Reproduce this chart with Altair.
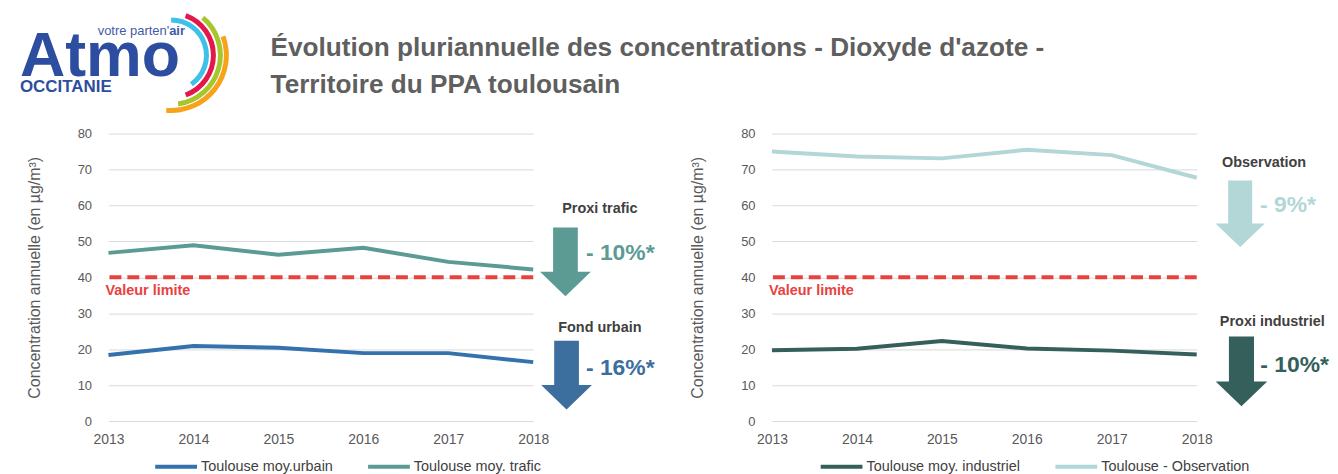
import altair as alt
import pandas as pd

# ---------------- data ----------------
years = [2013, 2014, 2015, 2016, 2017, 2018]
urbain = [18.4, 20.9, 20.4, 18.9, 18.9, 16.4]
trafic = [46.8, 48.9, 46.3, 48.2, 44.3, 42.2]
industriel = [19.7, 20.1, 22.3, 20.2, 19.6, 18.5]
observation = [75.0, 73.6, 73.1, 75.5, 74.0, 67.7]
limit_value = 40

left_series = ["Toulouse moy.urbain", "Toulouse moy. trafic"]
right_series = ["Toulouse moy. industriel", "Toulouse - Observation"]
y_ticks = [0, 10, 20, 30, 40, 50, 60, 70, 80]

title_line1 = "Évolution pluriannuelle des concentrations - Dioxyde d'azote  -"
title_line2 = "Territoire du PPA toulousain"
y_title = "Concentration annuelle (en µg/m³)"

# ---------------- styles ----------------
FONT = "Liberation Sans, Arial, sans-serif"
GRAY = "#595959"
DARK = "#404040"
RED = "#e8423f"
C_URB, C_TRA = "#3471ad", "#5b9b94"
C_IND, C_OBS = "#355f5b", "#b3d6d6"
A_URB = "#3c6e9e"
LOGO = "#2d4ea0"

W, H = 427, 289

# arrow shape (unit box -1..1)
ARROW = ("M-0.36,-1 L0.36,-1 L0.36,0.29 L0.74,0.29 L0,1 "
         "L-0.74,0.29 L-0.36,0.29 Z")

x_scale = alt.Scale(domain=[2013, 2018], nice=False, zero=False)
y_scale = alt.Scale(domain=[0, 80], nice=False)
x_axis = alt.Axis(values=years, format="d", title=None, grid=False,
                  domain=False, ticks=False, labelFont=FONT,
                  labelFontSize=14, labelColor=GRAY, labelPadding=12,
                  labelFlush=False)
y_axis = alt.Axis(values=y_ticks, tickCount=9, title=y_title, grid=True,
                  gridColor="#d9d9d9", gridWidth=1, domain=False,
                  ticks=False, labelFont=FONT, labelFontSize=13,
                  labelColor=GRAY, labelPadding=17, labelOverlap=False,
                  titleFont=FONT, titleFontSize=16,
                  titleFontWeight="normal", titleColor=GRAY,
                  titlePadding=35)


def one():
    return pd.DataFrame({"t": [""]})


def txt(s, x, y, size, color, weight="bold", align="center",
        baseline="middle"):
    return alt.Chart(pd.DataFrame({"t": [s]})).mark_text(
        font=FONT, fontSize=size, fontWeight=weight, color=color,
        align=align, baseline=baseline
    ).encode(x=alt.value(x), y=alt.value(y), text="t:N")


def arrow(x, y, h, color):
    return alt.Chart(one()).mark_point(
        shape=ARROW, filled=True, size=h * h, opacity=1, strokeWidth=0,
        fill=color
    ).encode(x=alt.value(x), y=alt.value(y))


def arc(x, y, r, t1, t2, color):
    return alt.Chart(one()).mark_arc(
        theta=t1, theta2=t2, radius=r, radius2=r - 5, color=color
    ).encode(x=alt.value(x), y=alt.value(y))


def panel(names, vals_a, vals_b, colors, legend_x):
    df = pd.DataFrame({
        "year": years * 2,
        "value": vals_a + vals_b,
        "series": [names[0]] * len(years) + [names[1]] * len(years),
    })
    lines = alt.Chart(df).mark_line(strokeWidth=4).encode(
        x=alt.X("year:Q", scale=x_scale, axis=x_axis),
        y=alt.Y("value:Q", scale=y_scale, axis=y_axis),
        color=alt.Color("series:N",
                        scale=alt.Scale(domain=names, range=colors),
                        legend=alt.Legend(title=None, orient="none",
                                          legendX=legend_x, legendY=312,
                                          direction="horizontal",
                                          symbolType="stroke", symbolSize=1764,
                                          symbolStrokeWidth=4,
                                          labelFont=FONT, labelFontSize=14.5,
                                          labelColor=DARK, columnPadding=27,
                                          labelOffset=2, padding=0)),
    )
    rule = alt.Chart(one()).mark_rule(
        color=RED, strokeWidth=4, strokeDash=[12, 6]
    ).encode(y=alt.YDatum(limit_value, axis=y_axis, scale=y_scale))
    vl = alt.Chart(one()).mark_text(
        text="Valeur limite", font=FONT, fontSize=14.5, fontWeight="bold",
        color=RED, align="left", baseline="middle", dx=-3, dy=14
    ).encode(x=alt.XDatum(2013, axis=x_axis, scale=x_scale),
             y=alt.YDatum(limit_value, axis=y_axis, scale=y_scale))
    return [lines, rule, vl]


# ---------------- left panel ----------------
left_layers = panel(left_series, urbain, trafic, [C_URB, C_TRA], 45)
left_layers += [
    txt("Proxi trafic", 494, 76.3, 14.5, DARK),
    arrow(459.4, 129, 69, C_TRA),
    txt("- 10%*", 514.5, 120.3, 23, C_TRA),
    txt("Fond urbain", 494, 195.3, 14.5, DARK),
    arrow(460.5, 242.8, 69, A_URB),
    txt("- 16%*", 514.5, 235.3, 23, A_URB),
    # header: title
    txt(title_line1, 163, -85.7, 26.3, "#5f5f5f", align="left"),
    txt(title_line2, 163, -48.7, 26.3, "#5f5f5f", align="left"),
    # header: logo
    arc(63, -78.7, 38, 0.0, 2.53, "#3fc0e8"),
    arc(63, -78.7, 45, 0.35, 2.79, "#e4174a"),
    arc(63, -78.7, 52, 0.70, 3.00, "#a7c62c"),
    arc(63, -78.7, 58, 1.22, 3.23, "#f7a21b"),
    txt("Atmo", -89, -57.7, 63, LOGO, align="left", baseline="alphabetic"),
    txt("votre parten'", 61, -102.7, 13, "#3f5ba9", weight="normal",
        align="right"),
    txt("air", 61, -102.7, 13, "#3f5ba9", align="left"),
    txt("OCCITANIE", -89, -46.7, 17, LOGO, align="left"),
]
anchor = alt.Chart(one()).mark_rule(strokeOpacity=0, strokeWidth=1).encode(
    x=alt.value(-100.5), x2=alt.value(-100.5),
    y=alt.value(-124.2), y2=alt.value(-120))
left_layers.append(anchor)
left = alt.layer(*left_layers).properties(width=W, height=H)

# ---------------- right panel ----------------
right_layers = panel(right_series, industriel, observation, [C_IND, C_OBS], 47)
right_layers += [
    txt("Observation", 494.7, 29.3, 14.5, DARK),
    arrow(470.7, 80.6, 67, C_OBS),
    txt("- 9%*", 518.8, 72.3, 23, C_OBS),
    txt("Proxi industriel", 503, 189.3, 14.5, DARK),
    arrow(472, 239, 70, C_IND),
    txt("- 10%*", 525.5, 232.3, 23, C_IND),
]
right = alt.layer(*right_layers).properties(width=W, height=H)

chart = alt.hconcat(left, right, spacing=240, bounds="flush", padding=0)
chart = chart.resolve_scale(color="independent").resolve_legend(
    color="independent").configure_view(stroke=None)

chart.save("out.html", embed_options={"renderer": "svg", "actions": False})
